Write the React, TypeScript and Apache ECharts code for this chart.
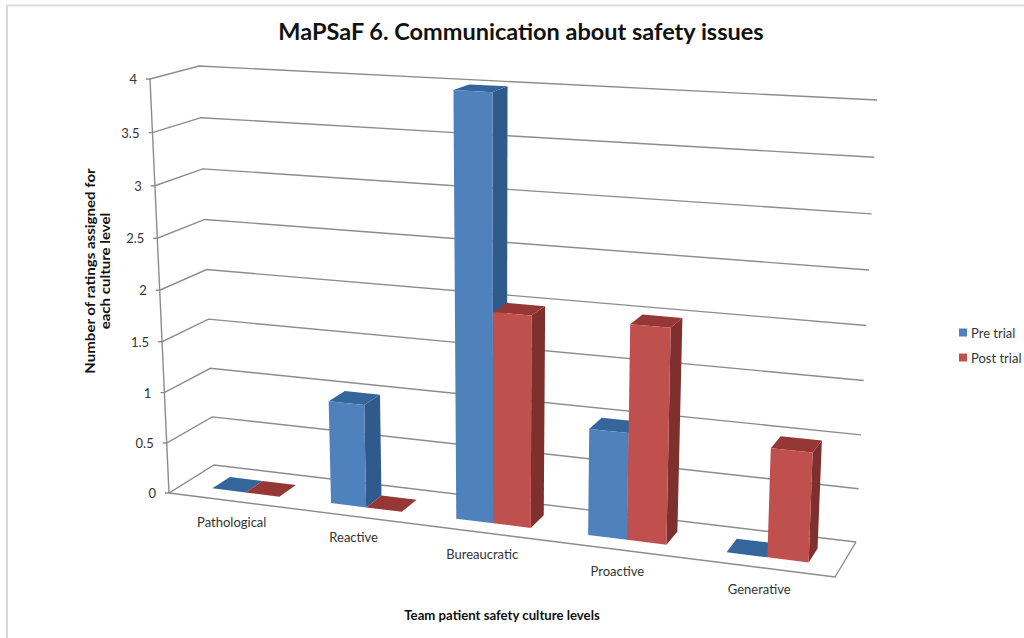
import React, { useEffect, useRef } from "react";
import * as echarts from "echarts";

const categories = ["Pathological", "Reactive", "Bureaucratic", "Proactive", "Generative"];
const preTrial = [0, 1, 4, 1, 0];
const postTrial = [0, 0, 2, 2, 1];
const yTicks = [0, 0.5, 1, 1.5, 2, 2.5, 3, 3.5, 4];
const seriesNames = ["Pre trial", "Post trial"];

type Pt = [number, number];

// Box corners of the perspective view, in page pixels.
const FL: Pt = [169, 493];
const FR: Pt = [835, 577];
const BL: Pt = [214, 465];
const BR: Pt = [856, 542];
const TFL: Pt = [150, 79];
const TFR: Pt = [852, 116];
const TBL: Pt = [199, 66];
const TBR: Pt = [877, 100];

const GRID = { left: 150, top: 79, width: 700, height: 414 };
const BAR_U = 0.2 / 3.5;
const W0 = 0.3;
const W1 = 0.7;

const lerp = (a: Pt, b: Pt, t: number): Pt => [a[0] + (b[0] - a[0]) * t, a[1] + (b[1] - a[1]) * t];
const plane = (fl: Pt, fr: Pt, bl: Pt, br: Pt, s: number, w: number): Pt =>
  lerp(lerp(fl, bl, w), lerp(fr, br, w), s);
// Projective foreshortening of the vertical scale.
const heightT = (x: number) => (x * 0.96) / (1 - 0.04 * x);
const project = (s: number, w: number, frac: number): Pt =>
  lerp(plane(FL, FR, BL, BR, s, w), plane(TFL, TFR, TBL, TBR, s, w), heightT(frac));
// Foreshortening along the category direction.
const warp = (u: number) => 0.008 + 0.865 * u + 0.125 * u * u;

const axisFrac = (api: any, v: number) => {
  const y0 = api.coord([0, 0])[1];
  const y1 = api.coord([0, 4])[1];
  return (y0 - api.coord([0, v])[1]) / (y0 - y1);
};
const catU = (api: any, i: number) => (api.coord([i, 0])[0] - GRID.left) / GRID.width;

const LINE = "#8c8c8c";
const TEXT = "#333333";
const FONT = "Lato";

function wallItem(_p: any, api: any) {
  const v = api.value(1);
  const f = axisFrac(api, v);
  const a = project(0, 0, f);
  const b = project(0, 1, f);
  const c = project(1, 1, f);
  const children: any[] = [
    { type: "polyline", shape: { points: [[a[0] - 4, a[1]], a, b, c] }, style: { stroke: LINE, lineWidth: 1.4, fill: "none" } },
    {
      type: "text",
      style: { text: String(v), x: a[0] - 13, y: a[1], align: "right", verticalAlign: "middle", fontFamily: FONT, fontSize: 13, fill: TEXT },
    },
  ];
  if (v === 0) {
    children.push({
      type: "polyline",
      shape: { points: [a, project(1, 0, 0), project(1, 1, 0)] },
      style: { stroke: LINE, lineWidth: 1.4, fill: "none" },
    });
    children.push({
      type: "line",
      shape: { x1: a[0], y1: a[1], x2: project(0, 0, 1)[0], y2: project(0, 0, 1)[1] },
      style: { stroke: LINE, lineWidth: 1.4 },
    });
  }
  return { type: "group", children };
}

function labelItem(_p: any, api: any) {
  const i = api.value(0);
  const p = project(warp(catU(api, i)), 0, 0);
  return {
    type: "text",
    style: { text: categories[i], x: p[0] - 1, y: p[1] + 21, align: "center", verticalAlign: "middle", fontFamily: FONT, fontSize: 13, fill: TEXT },
  };
}

const barItem = (offset: number, front: string, side: string, top: string) => (_p: any, api: any) => {
  const i = api.value(0);
  const v = api.value(1);
  const f = axisFrac(api, v);
  const uc = catU(api, i);
  const s0 = warp(uc + offset * BAR_U);
  const s1 = warp(uc + (offset + 1) * BAR_U);
  const a = project(s0, W0, 0);
  const b = project(s1, W0, 0);
  const c = project(s1, W1, 0);
  const at = project(s0, W0, f);
  const bt = project(s1, W0, f);
  const ct = project(s1, W1, f);
  const dt = project(s0, W1, f);
  const children: any[] = [];
  if (v > 0) {
    children.push({ type: "polygon", shape: { points: [b, c, ct, bt] }, style: { fill: side } });
    children.push({ type: "polygon", shape: { points: [at, bt, ct, dt] }, style: { fill: top } });
    children.push({ type: "polygon", shape: { points: [a, b, bt, at] }, style: { fill: front } });
  } else {
    children.push({ type: "polygon", shape: { points: [at, bt, ct, dt] }, style: { fill: top } });
  }
  return { type: "group", children };
};

export default function App() {
  const ref = useRef<HTMLDivElement>(null);
  useEffect(() => {
    const chart = echarts.init(ref.current!, undefined, { renderer: "svg" });
    chart.setOption({
      animation: false,
      backgroundColor: "#ffffff",
      title: {
        text: "MaPSaF 6. Communication about safety issues",
        left: 516,
        top: 14,
        textAlign: "center",
        textStyle: { fontFamily: FONT, fontSize: 23.5, fontWeight: "bold", color: "#111111" },
      },
      legend: {
        orient: "vertical",
        left: 954,
        top: 321,
        itemWidth: 8,
        itemHeight: 8,
        itemGap: 12,
        icon: "rect",
        data: seriesNames,
        textStyle: { fontFamily: FONT, fontSize: 13, color: TEXT, padding: [0, 0, 0, -1] },
      },
      grid: GRID,
      xAxis: { type: "category", data: categories, show: false },
      yAxis: { type: "value", min: 0, max: 4, interval: 0.5, show: false },
      graphic: [
        { type: "line", silent: true, shape: { x1: 7, y1: 5, x2: 7, y2: 638 }, style: { stroke: "#c9c9c9", lineWidth: 1.5 } },
        { type: "line", silent: true, shape: { x1: 7, y1: 5.5, x2: 1024, y2: 5.5 }, style: { stroke: "#dcdcdc", lineWidth: 2 } },
        {
          type: "text",
          x: 97,
          y: 271,
          rotation: Math.PI / 2,
          scaleX: 1.157,
          style: {
            text: "Number of ratings assigned for\neach culture level",
            align: "center",
            verticalAlign: "middle",
            lineHeight: 15,
            fontFamily: FONT,
            fontWeight: "bold",
            fontSize: 13,
            fill: "#111111",
          },
        },
        {
          type: "text",
          x: 502,
          y: 615,
          style: {
            text: "Team patient safety culture levels",
            align: "center",
            verticalAlign: "middle",
            fontFamily: FONT,
            fontWeight: "bold",
            fontSize: 13.2,
            fill: "#111111",
          },
        },
      ],
      series: [
        { type: "custom", name: "walls", silent: true, z: 1, data: yTicks.map((v) => [0, v]), renderItem: wallItem },
        { type: "custom", name: "labels", silent: true, z: 1, data: categories.map((_, i) => [i, 0]), renderItem: labelItem },
        {
          type: "custom",
          name: seriesNames[0],
          z: 2,
          itemStyle: { color: "#4F81BD" },
          data: preTrial.map((v, i) => [i, v]),
          renderItem: barItem(-1, "#4F81BD", "#2F5A8C", "#34659B"),
        },
        {
          type: "custom",
          name: seriesNames[1],
          z: 3,
          itemStyle: { color: "#C0504D" },
          data: postTrial.map((v, i) => [i, v]),
          renderItem: barItem(0, "#C0504D", "#7F2F2C", "#953735"),
        },
      ],
    });
    return () => chart.dispose();
  }, []);
  return <div ref={ref} style={{ position: "absolute", left: 0, top: 0, width: 1024, height: 638 }} />;
}
